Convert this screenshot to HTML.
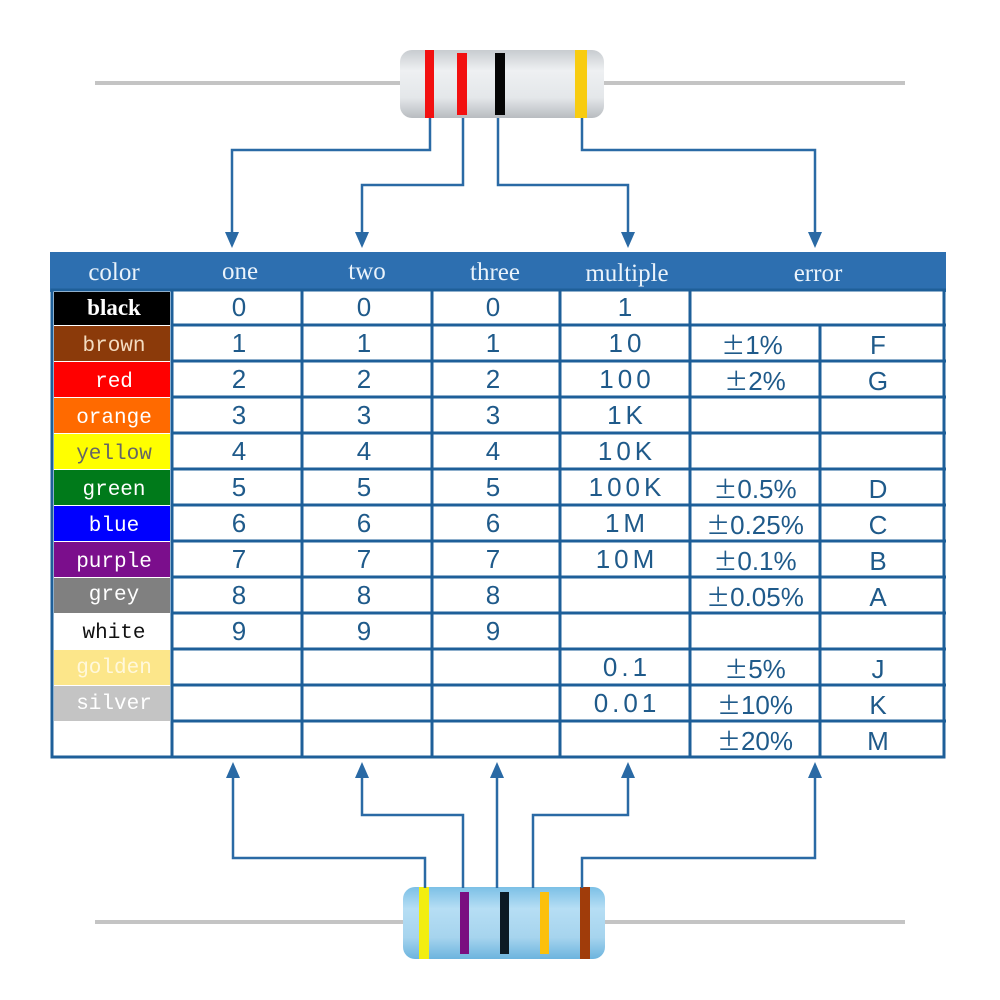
<!DOCTYPE html>
<html><head><meta charset="utf-8"><style>
html,body{margin:0;padding:0;background:#fff;}
svg{display:block;}
.n{font-family:"Liberation Sans",sans-serif;font-size:26px;fill:#1f5a8a;text-anchor:middle;}
.m{letter-spacing:4px;}
.p{font-family:"Noto Sans CJK SC","Liberation Sans",sans-serif;font-size:24px;}
.h{font-family:"Liberation Serif",serif;font-size:25px;fill:#eaf3fb;text-anchor:middle;}
.c{font-family:"Liberation Mono","Liberation Serif",serif;font-size:21px;fill:#fff;text-anchor:middle;}
</style></head><body>
<svg width="1000" height="1000" viewBox="0 0 1000 1000" xmlns="http://www.w3.org/2000/svg">
<defs>
<linearGradient id="gw" x1="0" y1="0" x2="0" y2="1"><stop offset="0" stop-color="#c8ccd0"/><stop offset="0.3" stop-color="#eef0f2"/><stop offset="0.7" stop-color="#e4e7ea"/><stop offset="1" stop-color="#b8bcc0"/></linearGradient>
<linearGradient id="gb" x1="0" y1="0" x2="0" y2="1"><stop offset="0" stop-color="#7cc0e6"/><stop offset="0.3" stop-color="#b6def4"/><stop offset="0.7" stop-color="#a6d4ee"/><stop offset="1" stop-color="#6cb4de"/></linearGradient>
</defs>
<line x1="95" y1="83" x2="905" y2="83" stroke="#c4c4c4" stroke-width="4"/>
<rect x="400" y="50" width="204" height="68" rx="12" fill="url(#gw)"/>
<rect x="425" y="50" width="9" height="68" fill="#f21010"/>
<rect x="457" y="53" width="10" height="62" fill="#f21010"/>
<rect x="495" y="53" width="10" height="62" fill="#050505"/>
<rect x="575" y="50" width="12" height="68" fill="#f8cc10"/>
<line x1="95" y1="922" x2="905" y2="922" stroke="#c4c4c4" stroke-width="4"/>
<rect x="403" y="887" width="202" height="72" rx="12" fill="url(#gb)"/>
<rect x="419" y="887" width="10" height="72" fill="#f2ee10"/>
<rect x="460" y="892" width="9" height="62" fill="#7a0e80"/>
<rect x="500" y="892" width="9" height="62" fill="#0c1a24"/>
<rect x="540" y="892" width="9" height="62" fill="#fcc00c"/>
<rect x="580" y="887" width="10" height="72" fill="#a03c0a"/>
<g fill="none" stroke="#2a6aa5" stroke-width="2.5">
<polyline points="430,118 430,150 232,150 232,235"/>
<polyline points="463,118 463,185 362,185 362,235"/>
<polyline points="498,118 498,185 628,185 628,235"/>
<polyline points="582,118 582,150 815,150 815,235"/>
<polyline points="425,888 425,858 233,858 233,775"/>
<polyline points="463,888 463,815 362,815 362,775"/>
<polyline points="497,888 497,775"/>
<polyline points="533,888 533,815 628,815 628,775"/>
<polyline points="582,888 582,858 815,858 815,775"/>
</g>
<g fill="#2a6aa5">
<polygon points="225,232 239,232 232,248"/><polygon points="355,232 369,232 362,248"/><polygon points="621,232 635,232 628,248"/><polygon points="808,232 822,232 815,248"/>
<polygon points="226,778 240,778 233,762"/><polygon points="355,778 369,778 362,762"/><polygon points="490,778 504,778 497,762"/><polygon points="621,778 635,778 628,762"/><polygon points="808,778 822,778 815,762"/>
</g>
<rect x="50" y="252" width="896" height="40" fill="#2d6fb0"/>
<rect x="52" y="290" width="892" height="467" fill="#fff" stroke="#1e5f99" stroke-width="3"/>
<g>
<rect x="54" y="292" width="116" height="33" fill="#000"/>
<rect x="54" y="326" width="116" height="35" fill="#8b3a0a"/>
<rect x="54" y="362" width="116" height="35" fill="#ff0000"/>
<rect x="54" y="398" width="116" height="35" fill="#ff6a00"/>
<rect x="54" y="434" width="116" height="35" fill="#ffff00"/>
<rect x="54" y="470" width="116" height="35" fill="#007a1a"/>
<rect x="54" y="506" width="116" height="35" fill="#0000ff"/>
<rect x="54" y="542" width="116" height="35" fill="#7b0e8c"/>
<rect x="54" y="578" width="116" height="35" fill="#808080"/>
<rect x="54" y="650" width="116" height="35" fill="#fce68a"/>
<rect x="54" y="686" width="116" height="35" fill="#c4c4c4"/>
</g>
<g stroke="#1e5f99" stroke-width="3">
<line x1="172" y1="290" x2="946" y2="290"/>
<line x1="172" y1="325" x2="946" y2="325"/>
<line x1="172" y1="361" x2="946" y2="361"/>
<line x1="172" y1="397" x2="946" y2="397"/>
<line x1="172" y1="433" x2="946" y2="433"/>
<line x1="172" y1="469" x2="946" y2="469"/>
<line x1="172" y1="505" x2="946" y2="505"/>
<line x1="172" y1="541" x2="946" y2="541"/>
<line x1="172" y1="577" x2="946" y2="577"/>
<line x1="172" y1="613" x2="946" y2="613"/>
<line x1="172" y1="649" x2="946" y2="649"/>
<line x1="172" y1="685" x2="946" y2="685"/>
<line x1="172" y1="721" x2="946" y2="721"/>
<line x1="172" y1="290" x2="172" y2="758"/>
<line x1="302" y1="290" x2="302" y2="758"/>
<line x1="432" y1="290" x2="432" y2="758"/>
<line x1="560" y1="290" x2="560" y2="758"/>
<line x1="690" y1="290" x2="690" y2="758"/>
<line x1="820" y1="325" x2="820" y2="758"/>
</g>
<text class="h" x="114" y="280">color</text>
<text class="h" x="240" y="279">one</text>
<text class="h" x="367" y="279">two</text>
<text class="h" x="495" y="280">three</text>
<text class="h" x="627" y="281">multiple</text>
<text class="h" x="818" y="281">error</text>
<g>
<text class="c" x="114" y="315" style="font-family:'Liberation Serif',serif;font-weight:bold;font-size:23px">black</text>
<text class="c" x="114" y="351" style="fill:#f3dcc0">brown</text>
<text class="c" x="114" y="387">red</text>
<text class="c" x="114" y="423">orange</text>
<text class="c" x="114" y="459" style="fill:#666">yellow</text>
<text class="c" x="114" y="495">green</text>
<text class="c" x="114" y="531">blue</text>
<text class="c" x="114" y="567">purple</text>
<text class="c" x="114" y="600">grey</text>
<text class="c" x="114" y="638" style="fill:#111">white</text>
<text class="c" x="114" y="673" style="fill:#fff8dc">golden</text>
<text class="c" x="114" y="709">silver</text>
</g>
<g>
<text class="n" x="239" y="316">0</text><text class="n" x="364" y="316">0</text><text class="n" x="493" y="316">0</text><text class="n m" x="627" y="316">1</text>
<text class="n" x="239" y="352">1</text><text class="n" x="364" y="352">1</text><text class="n" x="493" y="352">1</text><text class="n m" x="627" y="352">10</text><text class="n" x="752" y="354"><tspan class="p">±</tspan>1%</text><text class="n" x="878" y="354">F</text>
<text class="n" x="239" y="388">2</text><text class="n" x="364" y="388">2</text><text class="n" x="493" y="388">2</text><text class="n m" x="627" y="388">100</text><text class="n" x="755" y="390"><tspan class="p">±</tspan>2%</text><text class="n" x="878" y="390">G</text>
<text class="n" x="239" y="424">3</text><text class="n" x="364" y="424">3</text><text class="n" x="493" y="424">3</text><text class="n m" x="627" y="424">1K</text>
<text class="n" x="239" y="460">4</text><text class="n" x="364" y="460">4</text><text class="n" x="493" y="460">4</text><text class="n m" x="627" y="460">10K</text>
<text class="n" x="239" y="496">5</text><text class="n" x="364" y="496">5</text><text class="n" x="493" y="496">5</text><text class="n m" x="627" y="496">100K</text><text class="n" x="755" y="498"><tspan class="p">±</tspan>0.5%</text><text class="n" x="878" y="498">D</text>
<text class="n" x="239" y="532">6</text><text class="n" x="364" y="532">6</text><text class="n" x="493" y="532">6</text><text class="n m" x="627" y="532">1M</text><text class="n" x="755" y="534"><tspan class="p">±</tspan>0.25%</text><text class="n" x="878" y="534">C</text>
<text class="n" x="239" y="568">7</text><text class="n" x="364" y="568">7</text><text class="n" x="493" y="568">7</text><text class="n m" x="627" y="568">10M</text><text class="n" x="755" y="570"><tspan class="p">±</tspan>0.1%</text><text class="n" x="878" y="570">B</text>
<text class="n" x="239" y="604">8</text><text class="n" x="364" y="604">8</text><text class="n" x="493" y="604">8</text><text class="n" x="755" y="606"><tspan class="p">±</tspan>0.05%</text><text class="n" x="878" y="606">A</text>
<text class="n" x="239" y="640">9</text><text class="n" x="364" y="640">9</text><text class="n" x="493" y="640">9</text>
<text class="n m" x="627" y="676">0.1</text><text class="n" x="755" y="678"><tspan class="p">±</tspan>5%</text><text class="n" x="878" y="678">J</text>
<text class="n m" x="627" y="712">0.01</text><text class="n" x="755" y="714"><tspan class="p">±</tspan>10%</text><text class="n" x="878" y="714">K</text>
<text class="n" x="755" y="750"><tspan class="p">±</tspan>20%</text><text class="n" x="878" y="750">M</text>
</g>
</svg>
</body></html>
